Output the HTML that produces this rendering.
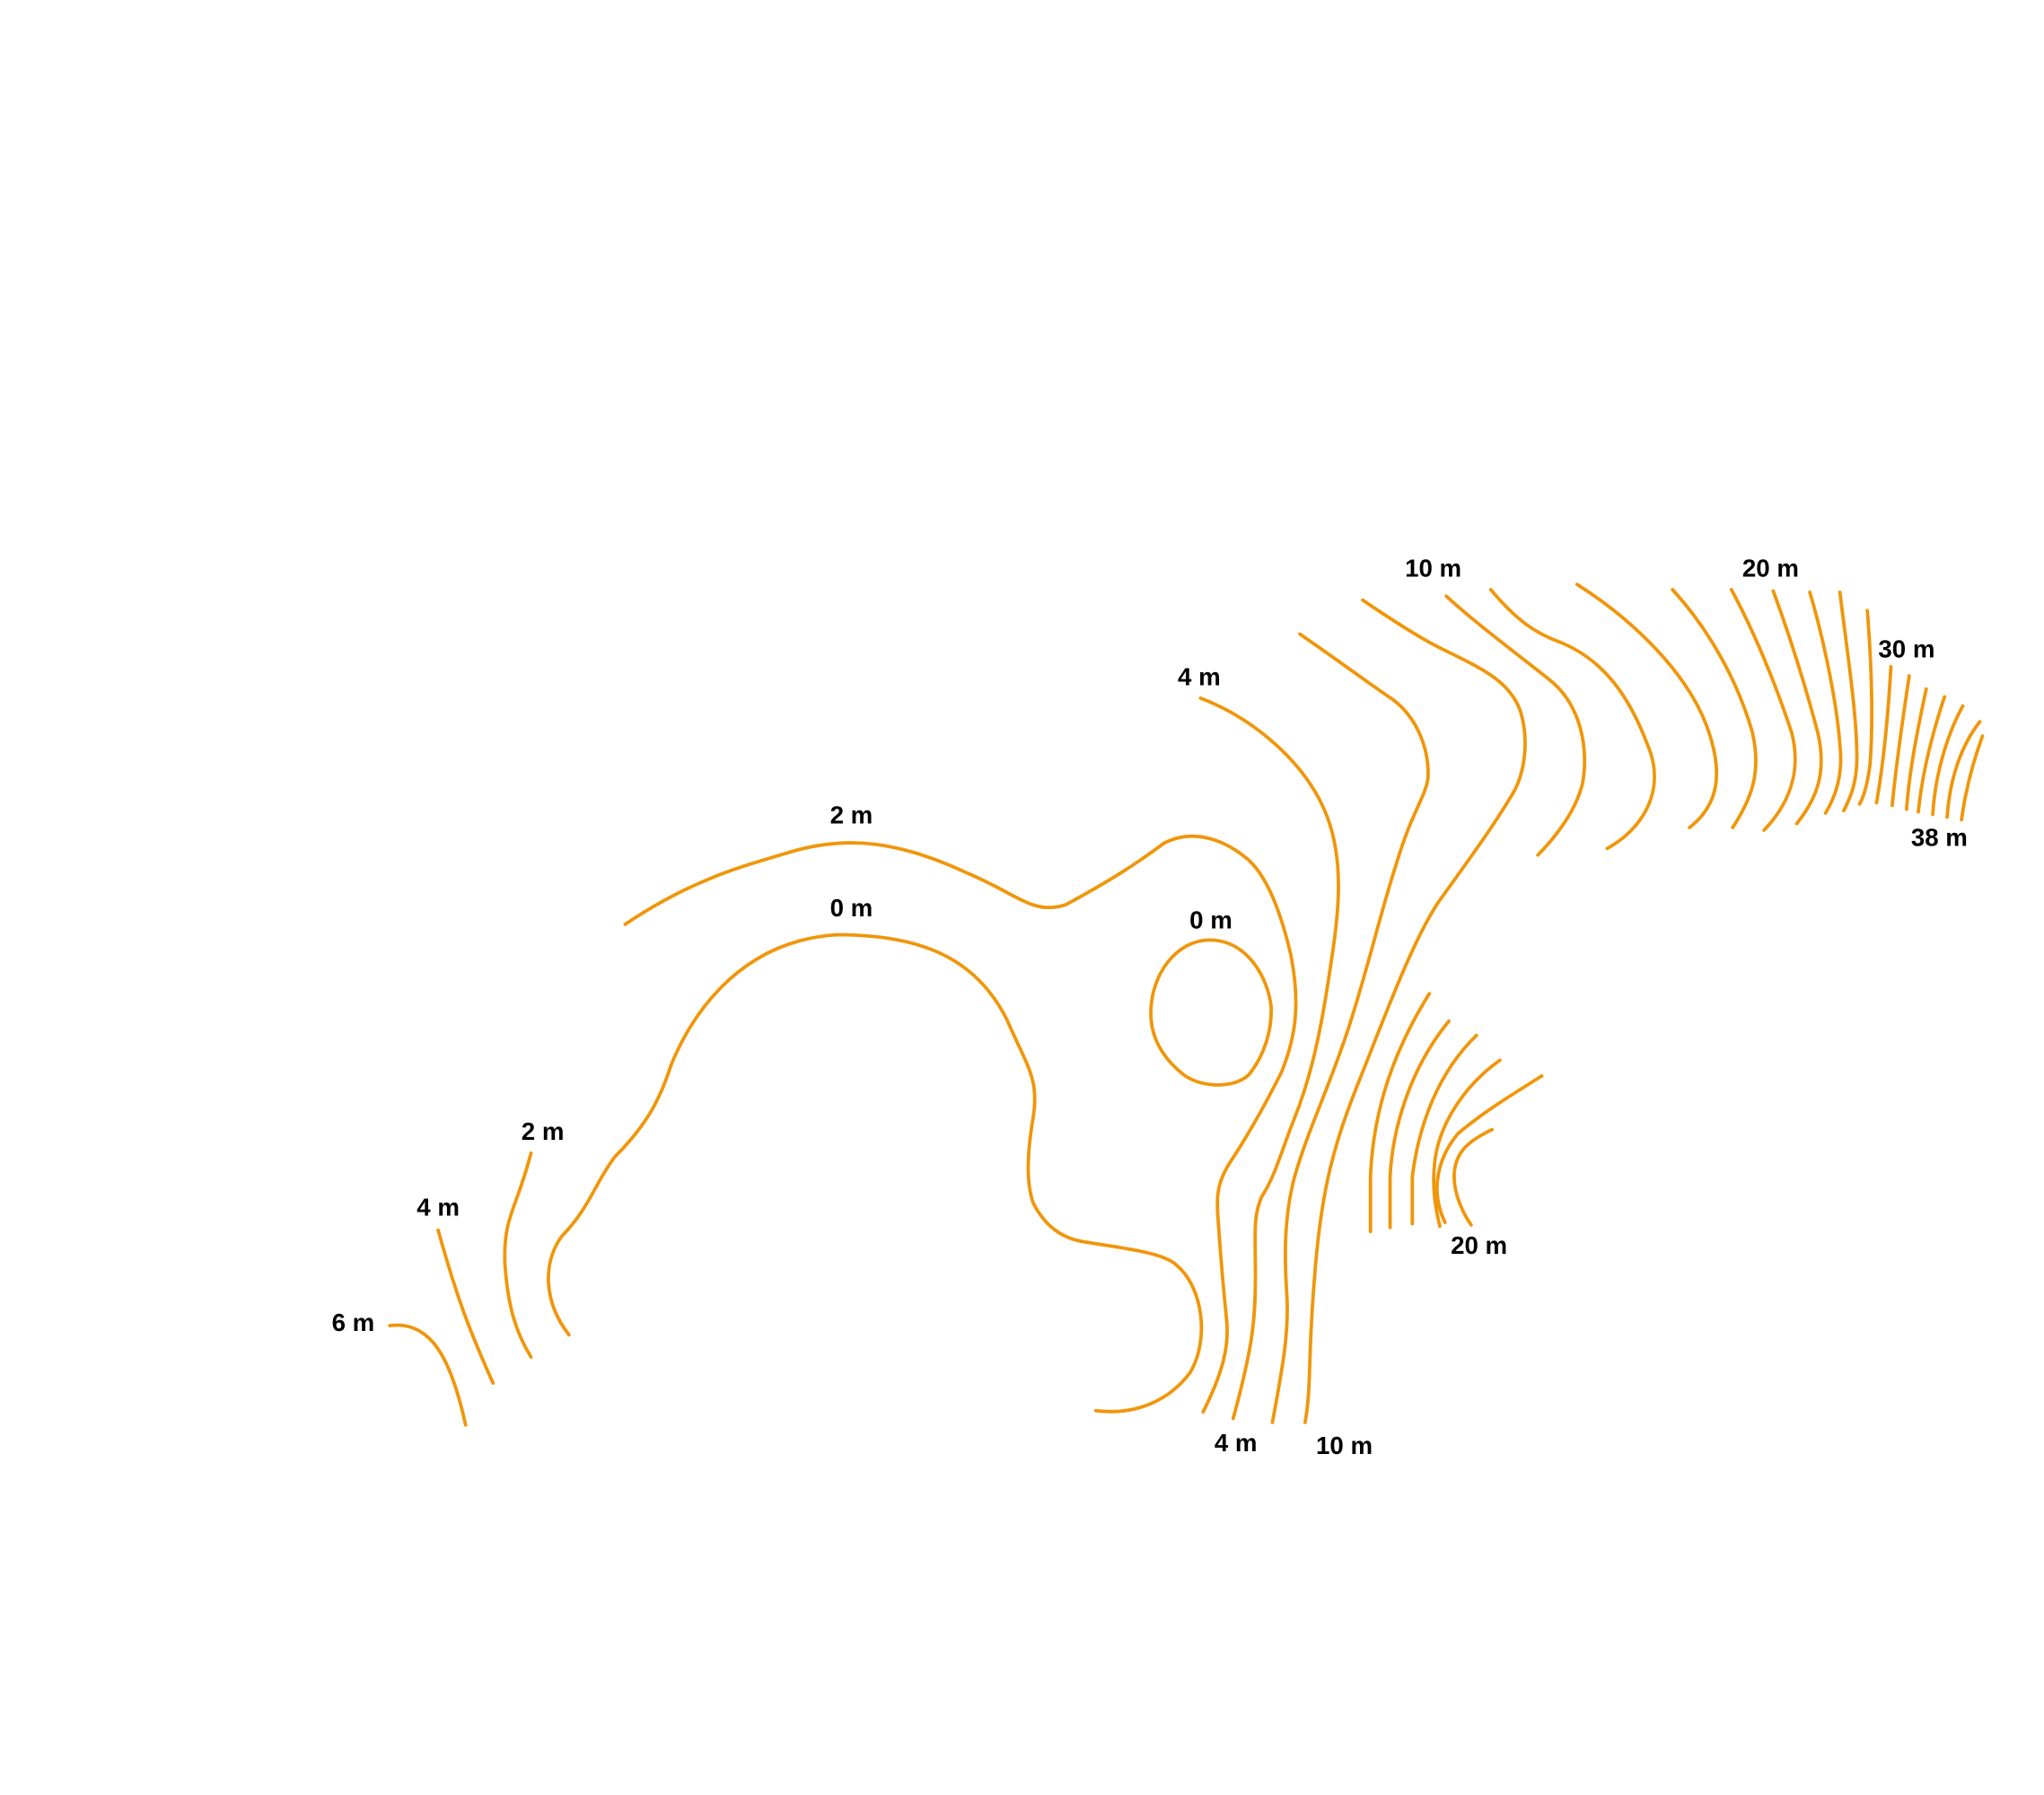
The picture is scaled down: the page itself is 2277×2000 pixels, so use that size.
<!DOCTYPE html>
<html><head><meta charset="utf-8"><style>
html,body{margin:0;padding:0;background:#fff;}
svg{display:block;}
text{font-family:"Liberation Sans",sans-serif;font-weight:bold;font-size:19px;fill:#000;text-anchor:middle;dominant-baseline:middle;}
path{fill:none;stroke:#f0960a;stroke-width:2.6;stroke-linecap:round;}
</style></head><body>
<svg width="2277" height="2000" viewBox="0 0 1563 1373" xmlns="http://www.w3.org/2000/svg">
<path d="M298,1014 C330,1010 345,1040 356,1090"/>
<path d="M335,941 C350,995 360,1020 377,1058"/>
<path d="M406,882 C395,925 385,930 386,965 C388,1000 395,1020 406,1038"/>
<path d="M435,1021 C415,995 415,965 430,945 C450,925 455,905 470,885 C495,860 505,840 513,815 C525,785 560,720 640,715 C700,715 745,730 770,780 C785,815 795,825 790,855 C785,885 785,905 790,920 C800,940 815,948 830,950 C860,955 890,958 900,968 C920,985 925,1025 910,1050 C895,1070 870,1083 838,1079"/>
<path d="M478,707 C530,672 570,662 600,653 C650,637 690,645 740,668 C780,685 790,700 815,692 C850,673 870,660 890,645 C915,632 940,645 955,658 C970,672 980,700 987,730 C995,770 990,795 980,820 C965,850 950,875 940,890 C930,907 930,915 932,940 C934,970 936,990 938,1010 C940,1030 935,1050 920,1080"/>
<path d="M925,719 C955,719 970,750 972,770 C973,790 965,810 955,822 C945,832 920,833 905,822 C890,810 880,795 880,775 C880,745 900,719 925,719Z"/>
<path d="M918,534 C960,550 1000,585 1015,625 C1030,665 1022,710 1015,755 C1008,800 1000,830 990,855 C980,880 975,900 965,915 C958,930 960,945 960,975 C960,1010 958,1030 943,1085"/>
<path d="M994,485 C1030,510 1050,525 1065,535 C1085,550 1093,575 1092,595 C1090,610 1080,620 1068,660 C1055,700 1045,745 1030,790 C1015,835 1000,865 990,900 C982,930 982,960 984,990 C986,1020 980,1050 973,1088"/>
<path d="M1042,459 C1070,478 1090,490 1100,495 C1130,510 1155,520 1163,545 C1170,570 1165,595 1155,610 C1140,635 1120,662 1100,690 C1080,720 1060,775 1040,825 C1020,875 1010,910 1005,980 C1000,1040 1003,1060 998,1088"/>
<path d="M1106,456 C1130,478 1160,500 1185,520 C1210,540 1215,575 1210,600 C1205,620 1190,640 1176,654"/>
<path d="M1140,451 C1160,475 1175,485 1195,492 C1225,505 1245,530 1260,570 C1275,605 1255,635 1229,649"/>
<path d="M1206,447 C1250,475 1290,515 1305,555 C1318,590 1315,615 1292,633"/>
<path d="M1279,451 C1310,485 1330,525 1340,560 C1347,590 1340,610 1325,633"/>
<path d="M1324,451 C1345,490 1360,530 1370,560 C1378,590 1368,615 1349,635"/>
<path d="M1356,452 C1370,490 1382,530 1390,560 C1397,590 1390,610 1374,630"/>
<path d="M1384,453 C1395,490 1405,540 1407,570 C1410,595 1402,612 1396,622"/>
<path d="M1407,453 C1412,495 1420,545 1420,580 C1420,600 1414,612 1410,620"/>
<path d="M1428,467 C1432,520 1432,560 1430,585 C1428,600 1425,610 1422,615"/>
<path d="M1446,510 C1444,545 1441,580 1435,614"/>
<path d="M1460,517 C1455,550 1450,585 1447,616"/>
<path d="M1473,527 C1466,560 1460,590 1458,619"/>
<path d="M1487,533 C1478,560 1470,590 1467,621"/>
<path d="M1501,540 C1490,560 1480,590 1478,623"/>
<path d="M1514,552 C1500,570 1491,595 1489,625"/>
<path d="M1516,563 C1508,585 1503,605 1500,627"/>
<path d="M1093,760 C1065,805 1050,850 1048,900 L1048,942"/>
<path d="M1108,781 C1080,815 1065,860 1063,900 L1063,939"/>
<path d="M1129,792 C1100,820 1085,860 1080,900 L1080,936"/>
<path d="M1147,811 C1120,830 1100,860 1097,890 C1095,910 1098,925 1101,938"/>
<path d="M1179,823 C1160,835 1135,850 1115,867 C1100,885 1093,910 1105,935"/>
<path d="M1141,864 C1125,872 1112,880 1112,900 C1112,915 1120,930 1125,937"/>
<text x="1096" y="436">10 m</text>
<text x="1354" y="436">20 m</text>
<text x="1458" y="498">30 m</text>
<text x="1483" y="642">38 m</text>
<text x="917" y="519">4 m</text>
<text x="651" y="625">2 m</text>
<text x="651" y="696">0 m</text>
<text x="926" y="705">0 m</text>
<text x="415" y="867">2 m</text>
<text x="335" y="925">4 m</text>
<text x="270" y="1013">6 m</text>
<text x="945" y="1105">4 m</text>
<text x="1028" y="1107">10 m</text>
<text x="1131" y="954">20 m</text>
</svg>
</body></html>
